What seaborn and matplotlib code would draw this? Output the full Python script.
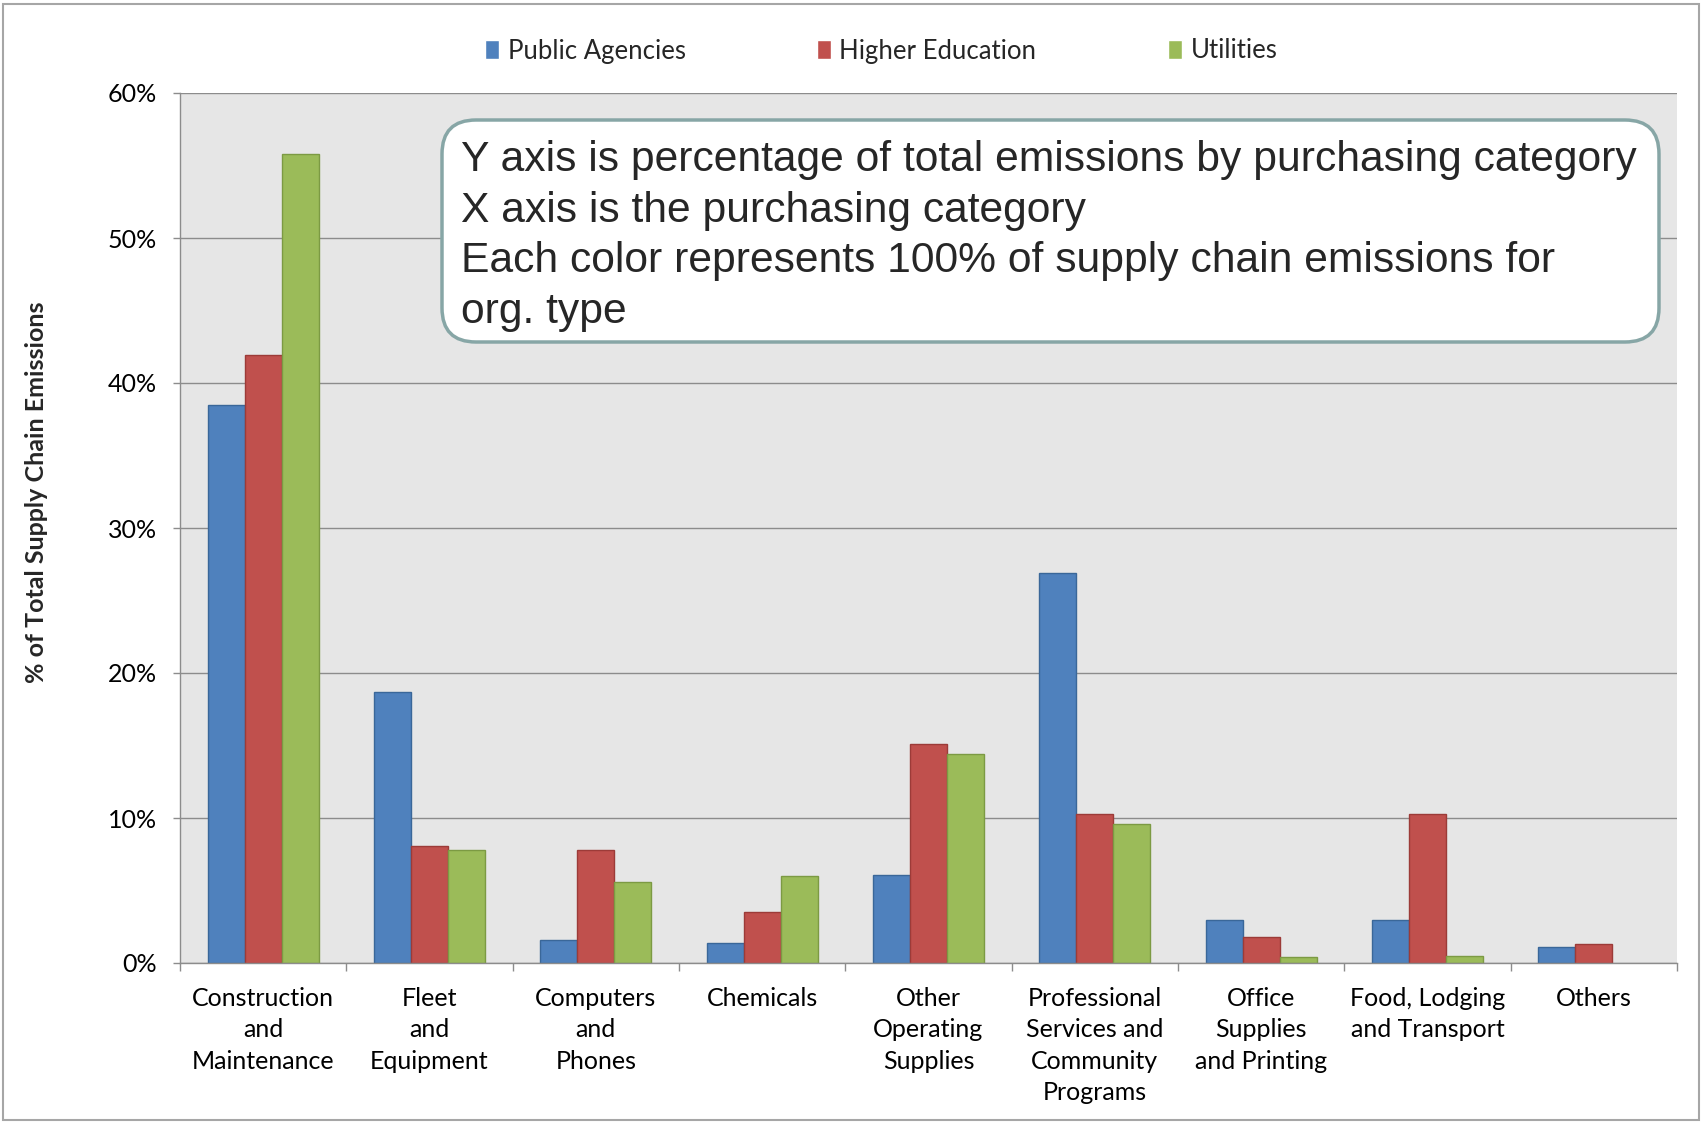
import matplotlib
matplotlib.use("Agg")
import matplotlib.pyplot as plt
import seaborn as sns
import pandas as pd
import numpy as np
from matplotlib.patches import FancyBboxPatch, Rectangle
from matplotlib.transforms import IdentityTransform
from matplotlib.ticker import FuncFormatter, FixedLocator

categories = [
    "Construction\nand\nMaintenance",
    "Fleet\nand\nEquipment",
    "Computers\nand\nPhones",
    "Chemicals",
    "Other\nOperating\nSupplies",
    "Professional\nServices and\nCommunity\nPrograms",
    "Office\nSupplies\nand Printing",
    "Food, Lodging\nand Transport",
    "Others",
]
series_names = ["Public Agencies", "Higher Education", "Utilities"]
public_agencies = [38.5, 18.7, 1.6, 1.4, 6.1, 26.9, 3.0, 3.0, 1.1]
higher_education = [41.9, 8.1, 7.8, 3.5, 15.1, 10.3, 1.8, 10.3, 1.3]
utilities = [55.8, 7.8, 5.6, 6.0, 14.4, 9.6, 0.4, 0.5, np.nan]
y_ticks = [0, 10, 20, 30, 40, 50, 60]

colors = ["#4f81bd", "#c0504d", "#9bbb59"]
edge_colors = ["#3a6799", "#9c3b38", "#7c9a43"]

rows = []
for name, vals in zip(series_names, [public_agencies, higher_education, utilities]):
    for c, v in zip(categories, vals):
        rows.append({"category": c, "series": name, "value": v})
df = pd.DataFrame(rows)

sns.set_theme(style="white")
plt.rcParams['font.family'] = ['Lato', 'DejaVu Sans']

W, H = 1702, 1123
fig = plt.figure(figsize=(W / 100, H / 100), dpi=100)
ax = fig.add_axes([180 / W, 1 - 963 / H, (1677 - 180) / W, (963 - 93) / H])

sns.barplot(data=df, x="category", y="value", hue="series", order=categories,
            hue_order=series_names, palette=colors, width=2 / 3, ax=ax,
            saturation=1, legend=True, errorbar=None)

for cont, ec in zip(ax.containers, edge_colors):
    for bar in cont:
        bar.set_edgecolor(ec)
        bar.set_linewidth(1.0)

ax.set_facecolor("#e6e6e6")
ax.set_ylim(0, 60)
ax.set_xlim(-0.5, len(categories) - 0.5)
ax.yaxis.set_major_locator(FixedLocator(y_ticks))
ax.yaxis.set_major_formatter(FuncFormatter(lambda v, p: f"{int(v)}%"))
ax.grid(axis="y", color="#8c8c8c", linewidth=1.0)
ax.set_axisbelow(True)
for s in ["top", "right"]:
    ax.spines[s].set_visible(False)
for s in ["left", "bottom"]:
    ax.spines[s].set_color("#8c8c8c")
    ax.spines[s].set_linewidth(1.0)

ax.tick_params(axis="y", which="major", length=5.4, width=1, color="#8c8c8c",
               direction="out", pad=11, labelsize=18, labelcolor="black", left=True)
ax.tick_params(axis="x", which="major", length=0, pad=17, labelsize=18, labelcolor="black")
ax.set_xticks(np.arange(-0.5, len(categories), 1.0), minor=True)
ax.tick_params(axis="x", which="minor", length=5.4, width=1, color="#8c8c8c", direction="out", bottom=True)
for lbl in ax.get_xticklabels():
    lbl.set_linespacing(1.45)
    lbl.set_multialignment("center")

ax.set_xlabel("")
ax.set_ylabel("")
fig.text(37 / W, 1 - 492 / H, "% of Total Supply Chain Emissions", rotation=90,
         ha="center", va="center", fontsize=18, fontweight="bold")

handles, labels = ax.get_legend_handles_labels()
ax.get_legend().remove()
leg = fig.legend(handles, labels, loc="center", bbox_to_anchor=(881 / W, 1 - 51 / H),
                 ncol=3, frameon=False, fontsize=18.5, handlelength=0.55, handleheight=0.75,
                 handletextpad=0.34, columnspacing=5.1)

box = FancyBboxPatch((442, H - 342), 1659 - 442, 342 - 120,
                     boxstyle="round,pad=0,rounding_size=34",
                     transform=IdentityTransform(), facecolor="white",
                     edgecolor="#87a6a6", linewidth=2.5, zorder=5)
fig.patches.append(box)
fig.text(461 / W, 1 - 236 / H,
         "Y axis is percentage of total emissions by purchasing category\n"
         "X axis is the purchasing category\n"
         "Each color represents 100% of supply chain emissions for\n"
         "org. type",
         ha="left", va="center", fontsize=30.7, family=["Liberation Sans", "DejaVu Sans"],
         linespacing=1.34, zorder=6)

fig.patches.append(Rectangle((3 / W, 3 / H), 1 - 6 / W, 1 - 7 / H, transform=fig.transFigure,
                             fill=False, edgecolor="#a6a6a6", linewidth=1.5))

fig.savefig("out.png", dpi=100)
